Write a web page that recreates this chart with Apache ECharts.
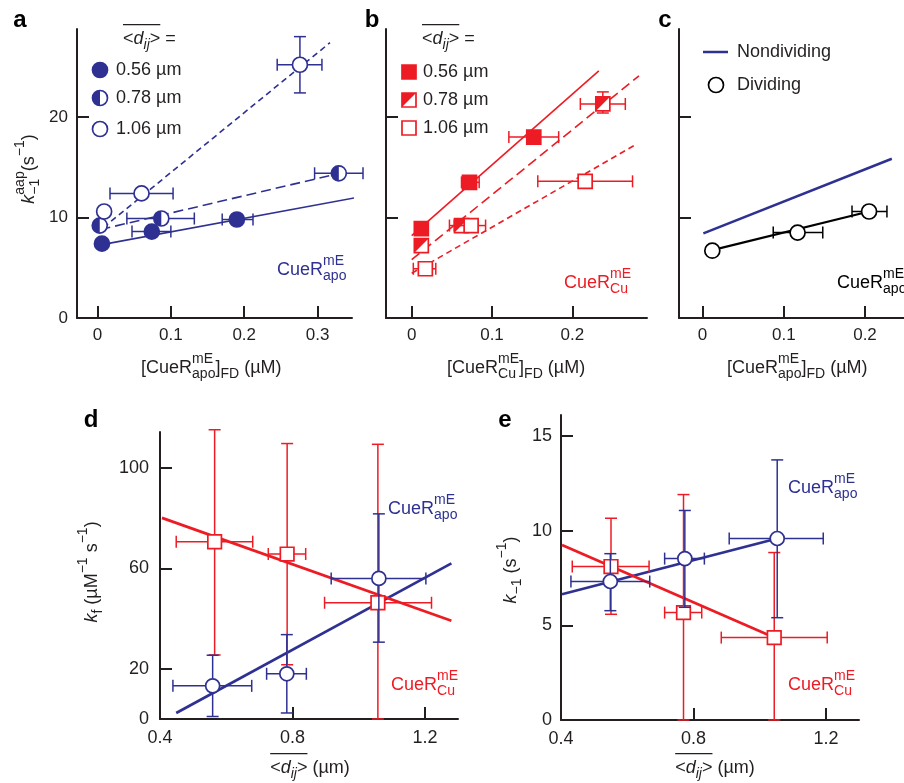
<!DOCTYPE html>
<html>
<head>
<meta charset="utf-8">
<title>CueR kinetics</title>
<script src="https://cdn.jsdelivr.net/npm/echarts@6/dist/echarts.min.js"></script>
<style>
  html, body { margin: 0; padding: 0; background: #fff; }
  #chart { width: 904px; height: 783px; }
</style>
</head>
<body>
<div id="chart"></div>
<script>
// values
// point rows: [x, y, xLow, xHigh, yLow, yHigh]  (null = no bar)
var a_056 = [[0.006, 7.4, null, null, null, null], [0.074, 8.6, 0.047, 0.100, null, null], [0.190, 9.8, 0.170, 0.212, null, null]];
var a_078 = [[0.003, 9.2, null, null, null, null], [0.087, 9.9, 0.040, 0.132, null, null], [0.329, 14.4, 0.296, 0.362, null, null]];
var a_106 = [[0.009, 10.6, null, null, null, null], [0.060, 12.4, 0.017, 0.103, null, null], [0.276, 25.2, 0.245, 0.306, 22.4, 28.0]];
var a_fit056 = [[0.006, 7.3], [0.350, 11.95]];
var a_fit078 = [[0.004, 8.8], [0.330, 14.4]];
var a_fit106 = [[0.008, 9.0], [0.317, 27.4]];

var b_056 = [[0.012, 8.9, null, null, null, null], [0.072, 13.5, 0.062, 0.084, null, null], [0.152, 18.0, 0.121, 0.183, 17.4, 18.6]];
var b_078 = [[0.012, 7.2, null, null, null, null], [0.062, 9.2, 0.047, 0.080, null, null], [0.238, 21.3, 0.210, 0.266, 20.4, 22.5]];
var b_106 = [[0.017, 4.9, 0.002, 0.030, null, null], [0.074, 9.2, 0.053, 0.092, null, null], [0.216, 13.6, 0.157, 0.275, null, null]];
var b_fit056 = [[0.000, 8.2], [0.233, 24.6]];
var b_fit078 = [[0.000, 5.8], [0.283, 24.1]];
var b_fit106 = [[0.000, 4.45], [0.280, 17.3]];

var c_nondiv = [[0.001, 8.43], [0.233, 15.85]];
var c_div = [[0.012, 6.7, null, null, null, null], [0.117, 8.5, 0.087, 0.148, null, null], [0.205, 10.6, 0.184, 0.227, null, null]];
var c_fitDiv = [[0.012, 6.75], [0.205, 10.6]];

var d_apo = [[0.559, 13.2, 0.439, 0.677, 1.0, 25.4], [0.783, 18.0, 0.722, 0.842, 2.4, 33.6], [1.061, 56.0, 0.917, 1.203, 30.6, 81.7]];
var d_cu = [[0.565, 70.6, 0.449, 0.680, 25.5, 115.2], [0.784, 65.7, 0.727, 0.840, 21.6, 109.7], [1.058, 46.3, 0.897, 1.220, 0, 109.4]];
var d_fitApo = [[0.449, 2.4], [1.280, 62.0]];
var d_fitCu = [[0.406, 80.1], [1.280, 39.1]];

var e_apo = [[0.549, 7.31, 0.430, 0.668, 5.77, 8.78], [0.774, 8.52, 0.713, 0.833, 5.95, 11.06], [1.053, 9.58, 0.908, 1.192, 5.4, 13.73]];
var e_cu = [[0.551, 8.1, 0.434, 0.666, 5.58, 10.65], [0.770, 5.67, 0.713, 0.825, 0, 11.9], [1.044, 4.35, 0.884, 1.204, 0, 8.84]];
var e_fitApo = [[0.403, 6.64], [1.053, 9.58]];
var e_fitCu = [[0.403, 9.24], [1.044, 4.35]];

// ticks / labels
var tickA_x = [0, 0.1, 0.2, 0.3];
var tickB_x = [0, 0.1, 0.2];
var tickTop_y = [0, 10, 20];
var tickD_y = [20, 60, 100], labD_y = [0, 20, 60, 100];
var tickE_y = [5, 10, 15], labE_y = [0, 5, 10, 15];
var tickDE_x = [0.8, 1.2], labDE_x = [0.4, 0.8, 1.2];
var legendSizes = ['0.56 µm', '0.78 µm', '1.06 µm'];

var BLUE = '#2e3192', RED = '#ed1c24', INK = '#231f20';
var FONT = 'Liberation Sans';
var CAP = 6;

var mctx = document.createElement('canvas').getContext('2d');
function tw(s, size, it) {
    mctx.font = (it ? 'italic ' : '') + size + 'px "' + FONT + '"';
    return mctx.measureText(s).width;
}

// text with super/subscripts, built from pieces
function mathText(x, y, segs, o) {
    o = o || {};
    var size = o.size || 18, color = o.color || INK, sm = size * 0.78;
    var kids = [], cx = 0, olA = null, olB = null;
    function t(px, py, s, fs, it) {
        kids.push({type: 'text', x: px, y: py, style: {text: s, fill: color, fontSize: fs, fontFamily: FONT,
            fontStyle: it ? 'italic' : 'normal', align: 'left', verticalAlign: 'middle'}});
    }
    segs.forEach(function (s) {
        var st = cx;
        if (s.t != null) { t(cx, 0, s.t, size, s.i); cx += tw(s.t, size, s.i); }
        else {
            var w = 0;
            if (s.sup) { t(cx, -size * 0.5, s.sup, sm, s.i); w = Math.max(w, tw(s.sup, sm, s.i)); }
            if (s.sub) { t(cx, size * 0.36, s.sub, sm, s.i); w = Math.max(w, tw(s.sub, sm, s.i)); }
            cx += w;
        }
        if (s.ol) { if (olA == null) olA = st; olB = cx; }
    });
    var off = o.align === 'center' ? -cx / 2 : 0;
    kids.forEach(function (k) { k.x += off; });
    if (olA != null) {
        kids.push({type: 'line', shape: {x1: olA + off, y1: -size * 0.8, x2: olB + off, y2: -size * 0.8},
            style: {stroke: color, lineWidth: 1.3}});
    }
    return {type: 'group', x: x, y: y, rotation: o.rot || 0, children: kids};
}

// marker shapes: circle / square, full / half / open
function marker(cx, cy, shape, fill, color, r) {
    var out = [];
    if (shape === 'circle') {
        out.push({type: 'circle', shape: {cx: cx, cy: cy, r: r}, style: {fill: fill === 'full' ? color : '#fff'}});
        if (fill === 'half') out.push({type: 'sector', shape: {cx: cx, cy: cy, r0: 0, r: r, startAngle: Math.PI / 2, endAngle: Math.PI * 1.5}, style: {fill: color}});
        out.push({type: 'circle', shape: {cx: cx, cy: cy, r: r}, style: {fill: 'none', stroke: color, lineWidth: 1.7}});
    } else {
        out.push({type: 'rect', shape: {x: cx - r, y: cy - r, width: 2 * r, height: 2 * r}, style: {fill: fill === 'full' ? color : '#fff'}});
        if (fill === 'half') out.push({type: 'polygon', shape: {points: [[cx - r, cy - r], [cx + r, cy - r], [cx - r, cy + r]]}, style: {fill: color}});
        out.push({type: 'rect', shape: {x: cx - r, y: cy - r, width: 2 * r, height: 2 * r}, style: {fill: 'none', stroke: color, lineWidth: 1.7}});
    }
    return out;
}

function seg(x1, y1, x2, y2, color) {
    return {type: 'line', shape: {x1: x1, y1: y1, x2: x2, y2: y2}, style: {stroke: color, lineWidth: 1.5}};
}

function pointSeries(data, g, color, shape, fill, r) {
    return {
        type: 'custom', xAxisIndex: g, yAxisIndex: g, data: data, z: 5, clip: false,
        encode: {x: 0, y: 1},
        renderItem: function (params, api) {
            var x = api.value(0), y = api.value(1);
            var p = api.coord([x, y]), kids = [];
            var xl = api.value(2), xh = api.value(3), yl = api.value(4), yh = api.value(5);
            if (isFinite(xl) && isFinite(xh)) {
                var a = api.coord([xl, y]), b = api.coord([xh, y]);
                kids.push(seg(a[0], a[1], b[0], b[1], color), seg(a[0], a[1] - CAP, a[0], a[1] + CAP, color), seg(b[0], b[1] - CAP, b[0], b[1] + CAP, color));
            }
            if (isFinite(yl) && isFinite(yh)) {
                var c = api.coord([x, yl]), d = api.coord([x, yh]);
                kids.push(seg(c[0], c[1], d[0], d[1], color), seg(c[0] - CAP, c[1], c[0] + CAP, c[1], color), seg(d[0] - CAP, d[1], d[0] + CAP, d[1], color));
            }
            return {type: 'group', children: kids.concat(marker(p[0], p[1], shape, fill, color, r))};
        }
    };
}

function fitSeries(data, g, color, width, dash) {
    return {type: 'line', xAxisIndex: g, yAxisIndex: g, data: data, symbol: 'none', silent: true, z: 2,
        lineStyle: {color: color, width: width, type: dash || 'solid'}};
}

function axis(g, min, max, ticks, labels, fs, margin) {
    return {
        type: 'value', gridIndex: g, min: min, max: max,
        axisLine: {onZero: false, lineStyle: {color: INK, width: 2}},
        axisTick: {inside: true, length: 12, customValues: ticks, lineStyle: {color: INK, width: 2}},
        axisLabel: labels ? {customValues: labels, fontSize: fs, color: INK, fontFamily: FONT, margin: margin} : {show: false},
        splitLine: {show: false}
    };
}

var chart = echarts.init(document.getElementById('chart'));

var g = [];
// panel letters
[['a', 20, 20], ['b', 372, 20], ['c', 665, 20], ['d', 91, 420], ['e', 505, 420]].forEach(function (l) {
    g.push({type: 'text', x: l[1], y: l[2], style: {text: l[0], fill: '#000', fontSize: 24, fontWeight: 'bold', fontFamily: FONT, align: 'center', verticalAlign: 'middle'}});
});

var dij = [{t: '<', ol: 1}, {t: 'd', i: 1, ol: 1}, {sub: 'ij', i: 1, ol: 1}, {t: '>', ol: 1}];
var apo = [{t: 'CueR'}, {sup: 'mE', sub: 'apo'}];
var cu = [{t: 'CueR'}, {sup: 'mE', sub: 'Cu'}];

// legend a
g.push(mathText(123, 39, dij.concat([{t: ' ='}])));
['full', 'half', 'open'].forEach(function (f, i) {
    var yy = [70, 98, 129][i];
    g = g.concat(marker(100, yy, 'circle', f, BLUE, 7.5));
    g.push({type: 'text', x: 116, y: yy, style: {text: legendSizes[i], fill: INK, fontSize: 18, fontFamily: FONT, verticalAlign: 'middle'}});
});
// legend b
g.push(mathText(422, 39, dij.concat([{t: ' ='}])));
['full', 'half', 'open'].forEach(function (f, i) {
    var yy = [72, 100, 128][i];
    g = g.concat(marker(409, yy, 'square', f, RED, 7));
    g.push({type: 'text', x: 423, y: yy, style: {text: legendSizes[i], fill: INK, fontSize: 18, fontFamily: FONT, verticalAlign: 'middle'}});
});
// legend c
g.push({type: 'line', shape: {x1: 703, y1: 52, x2: 728, y2: 52}, style: {stroke: BLUE, lineWidth: 2.5}});
g.push({type: 'text', x: 737, y: 52, style: {text: 'Nondividing', fill: INK, fontSize: 18, fontFamily: FONT, verticalAlign: 'middle'}});
g = g.concat(marker(716, 85, 'circle', 'open', '#000', 7.5));
g.push({type: 'text', x: 737, y: 85, style: {text: 'Dividing', fill: INK, fontSize: 18, fontFamily: FONT, verticalAlign: 'middle'}});

// species labels
g.push(mathText(277, 270, apo, {color: BLUE}));
g.push(mathText(564, 283, cu, {color: RED}));
g.push(mathText(837, 283, apo, {color: '#000'}));
g.push(mathText(388, 509, apo, {color: BLUE}));
g.push(mathText(391, 685, cu, {color: RED}));
g.push(mathText(788, 488, apo, {color: BLUE}));
g.push(mathText(788, 685, cu, {color: RED}));

// axis titles
var fdTail = [{t: ']'}, {sub: 'FD'}, {t: ' (µM)'}];
g.push(mathText(141, 368, [{t: '['}].concat(apo, fdTail)));
g.push(mathText(447, 368, [{t: '['}].concat(cu, fdTail)));
g.push(mathText(727, 368, [{t: '['}].concat(apo, fdTail)));
g.push(mathText(310, 768, dij.concat([{t: ' (µm)'}]), {align: 'center'}));
g.push(mathText(715, 768, dij.concat([{t: ' (µm)'}]), {align: 'center'}));
g.push(mathText(29, 169, [{t: 'k', i: 1}, {sup: 'aap', sub: '−1'}, {t: '(s'}, {sup: '−1'}, {t: ')'}], {align: 'center', rot: Math.PI / 2}));
g.push(mathText(92, 572, [{t: 'k', i: 1}, {sub: 'f'}, {t: ' (µM'}, {sup: '−1'}, {t: ' s'}, {sup: '−1'}, {t: ')'}], {align: 'center', rot: Math.PI / 2}));
g.push(mathText(511, 570, [{t: 'k', i: 1}, {sub: '−1'}, {t: ' (s'}, {sup: '−1'}, {t: ')'}], {align: 'center', rot: Math.PI / 2}));

var LONG = [10, 5], SHORT = [6, 4];

chart.setOption({
    animation: false,
    backgroundColor: '#fff',
    grid: [
        {left: 77, top: 29, right: 552, bottom: 465},
        {left: 386, top: 29, right: 257, bottom: 465},
        {left: 679, top: 29, right: 0, bottom: 465},
        {left: 160, top: 432, right: 446, bottom: 64},
        {left: 561, top: 415, right: 45, bottom: 63}
    ],
    xAxis: [
        axis(0, -0.028, 0.347, tickA_x, tickA_x, 17, 9),
        axis(1, -0.032, 0.293, tickB_x, tickB_x, 17, 9),
        axis(2, -0.029, 0.248, tickB_x, tickB_x, 17, 9),
        axis(3, 0.4, 1.3, tickDE_x, labDE_x, 18, 10),
        axis(4, 0.4, 1.3, tickDE_x, labDE_x, 18, 10)
    ],
    yAxis: [
        axis(0, 0, 28.76, tickTop_y, tickTop_y, 17, 9),
        axis(1, 0, 28.76, tickTop_y, null),
        axis(2, 0, 28.76, tickTop_y, null),
        axis(3, 0, 114.3, tickD_y, labD_y, 18, 11),
        axis(4, 0, 16.1, tickE_y, labE_y, 18, 9)
    ],
    graphic: {elements: g},
    series: [
        fitSeries(a_fit056, 0, BLUE, 1.6),
        fitSeries(a_fit078, 0, BLUE, 1.6, LONG),
        fitSeries(a_fit106, 0, BLUE, 1.6, SHORT),
        pointSeries(a_056, 0, BLUE, 'circle', 'full', 7.5),
        pointSeries(a_078, 0, BLUE, 'circle', 'half', 7.5),
        pointSeries(a_106, 0, BLUE, 'circle', 'open', 7.5),

        fitSeries(b_fit056, 1, RED, 1.6),
        fitSeries(b_fit078, 1, RED, 1.6, LONG),
        fitSeries(b_fit106, 1, RED, 1.6, SHORT),
        pointSeries(b_056, 1, RED, 'square', 'full', 7),
        pointSeries(b_078, 1, RED, 'square', 'half', 7),
        pointSeries(b_106, 1, RED, 'square', 'open', 7),

        fitSeries(c_nondiv, 2, BLUE, 2.5),
        fitSeries(c_fitDiv, 2, '#000', 2.2),
        pointSeries(c_div, 2, '#000', 'circle', 'open', 7.5),

        fitSeries(d_fitApo, 3, BLUE, 2.7),
        fitSeries(d_fitCu, 3, RED, 2.7),
        pointSeries(d_cu, 3, RED, 'square', 'open', 6.8),
        pointSeries(d_apo, 3, BLUE, 'circle', 'open', 7),

        fitSeries(e_fitApo, 4, BLUE, 2.7),
        fitSeries(e_fitCu, 4, RED, 2.7),
        pointSeries(e_cu, 4, RED, 'square', 'open', 6.8),
        pointSeries(e_apo, 4, BLUE, 'circle', 'open', 7)
    ]
});
</script>
</body>
</html>
